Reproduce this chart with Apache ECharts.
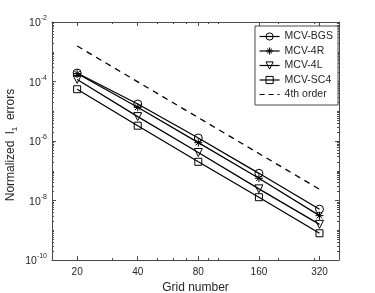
<!DOCTYPE html>
<html>
<head>
<meta charset="utf-8">
<script src="https://cdn.jsdelivr.net/npm/echarts@6/dist/echarts.min.js"></script>
<style>html,body{margin:0;padding:0;background:#fff}#c{width:375px;height:293px}</style>
</head>
<body>
<div id="c"></div>
<script>
// ---- data ----
const gridN = [20, 40, 80, 160, 320];
const bgs   = [1.93e-4, 1.75e-5, 1.26e-6, 8.2e-8, 5.1e-9];
const r4    = [1.85e-4, 1.36e-5, 8.8e-7, 5.6e-8, 3.1e-9];
const l4    = [1.17e-4, 6.6e-6, 4.1e-7, 2.46e-8, 1.58e-9];
const sc4   = [5.5e-5, 3.27e-6, 2.0e-7, 1.29e-8, 7.9e-10];
const ord4  = [1.56e-3, 9.75e-5, 6.1e-6, 3.8e-7, 2.38e-8];
const seriesNames = ['MCV-BGS', 'MCV-4R', 'MCV-4L', 'MCV-SC4', '4th order'];
const xMajorTicks = [20, 40, 80, 160, 320];
const xMinorTicks = [30, 50, 60, 70, 90, 100, 200, 300];
const yLabelTicks = [1e-10, 1e-8, 1e-6, 1e-4, 1e-2];
const yMinorTicks = [];
for (let e = -10; e < -2; e++) {
  for (let m = 1; m <= 9; m++) {
    const v = m * Math.pow(10, e);
    if (!(m === 1 && e % 2 === 0)) yMinorTicks.push(v);
  }
}

const axisColor = '#4a4a4a';
const textColor = '#262626';
const font = 'Liberation Sans';

function pairs(ys) { return gridN.map((x, i) => [x, ys[i]]); }

const asterisk = 'path://M0,5L10,5M5,0L5,10M1.6,1.6L8.4,8.4M8.4,1.6L1.6,8.4';
const downTri = 'path://M0,0L10,0L5,8.7Z';

function xAxisDef(pos, ticks, len, showLine, showLabel) {
  const a = {
    type: 'log', logBase: 10, min: 15, max: 400, position: pos,
    axisLine: { show: showLine, onZero: false, lineStyle: { color: axisColor, width: 1 } },
    axisTick: { show: true, inside: true, length: len, customValues: ticks, lineStyle: { color: axisColor, width: 1 } },
    axisLabel: { show: showLabel, customValues: ticks, margin: 7, color: textColor, fontFamily: font, fontSize: 10, formatter: v => String(Math.round(v)) },
    splitLine: { show: false }, minorTick: { show: false }
  };
  if (showLabel) {
    a.name = 'Grid number'; a.nameLocation = 'middle'; a.nameGap = 22; a.nameMoveOverlap = false;
    a.nameTextStyle = { color: textColor, fontFamily: font, fontSize: 12 };
  }
  return a;
}
function yAxisDef(pos, ticks, len, showLine, showLabel) {
  const a = {
    type: 'log', logBase: 10, min: 1e-10, max: 1e-2, position: pos,
    axisLine: { show: showLine, onZero: false, lineStyle: { color: axisColor, width: 1 } },
    axisTick: { show: true, inside: true, length: len, customValues: ticks, lineStyle: { color: axisColor, width: 1 } },
    axisLabel: {
      show: showLabel, customValues: ticks, margin: 5, color: textColor, fontFamily: font, fontSize: 10,
      formatter: v => '{b|10}{s|' + Math.round(Math.log10(v)) + '}',
      rich: {
        b: { fontSize: 10.5, fontFamily: font, color: textColor, lineHeight: 14, verticalAlign: 'bottom' },
        s: { fontSize: 7, fontFamily: font, color: textColor, lineHeight: 14, verticalAlign: 'top' }
      }
    },
    splitLine: { show: false }, minorTick: { show: false }
  };
  if (showLabel) {
    a.name = 'Normalized  l{s|1}  errors'; a.nameLocation = 'middle'; a.nameGap = 33; a.nameRotate = 90;
    a.nameMoveOverlap = false;
    a.nameTextStyle = { color: textColor, fontFamily: font, fontSize: 12, lineHeight: 16, padding: [0, 8, 0, 0],
      rich: { s: { fontSize: 8, fontFamily: font, color: textColor, lineHeight: 16, verticalAlign: 'bottom' } } };
  }
  return a;
}

function lineSeries(name, data, symbol, size) {
  return {
    name: name, type: 'line', data: pairs(data), symbol: symbol, symbolSize: size,
    showAllSymbol: true, z: 3,
    lineStyle: { color: '#000', width: 1.3 },
    itemStyle: { color: 'rgba(0,0,0,0)', borderColor: '#000', borderWidth: 1 },
    emphasis: { disabled: true }, animation: false
  };
}

const markerLegendStyle = { color: 'rgba(0,0,0,0)', borderColor: '#000', borderWidth: 1 };
const legendLine = { color: '#000', width: 1.2, type: 'solid' };

const chart = echarts.init(document.getElementById('c'), null, { renderer: 'canvas' });
chart.setOption({
  animation: false,
  backgroundColor: '#fff',
  grid: { left: 52, right: 36, top: 22, bottom: 33, containLabel: false, outerBoundsMode: 'none' },
  xAxis: [
    xAxisDef('bottom', xMajorTicks, 4, true, true),
    xAxisDef('bottom', xMinorTicks, 2, false, false),
    xAxisDef('top', xMajorTicks, 4, true, false),
    xAxisDef('top', xMinorTicks, 2, false, false)
  ],
  yAxis: [
    yAxisDef('left', yLabelTicks, 4, true, true),
    yAxisDef('left', yMinorTicks, 2, false, false),
    yAxisDef('right', yLabelTicks, 4, true, false),
    yAxisDef('right', yMinorTicks, 2, false, false)
  ],
  legend: {
    left: 255, top: 26, orient: 'vertical',
    backgroundColor: '#fff', borderColor: axisColor, borderWidth: 1,
    padding: [5, 5, 5, 4], itemGap: 3.5, itemWidth: 20, itemHeight: 9,
    textStyle: { color: textColor, fontFamily: font, fontSize: 10.5, lineHeight: 10 },
    data: [
      { name: seriesNames[0], itemStyle: markerLegendStyle, lineStyle: legendLine },
      { name: seriesNames[1], itemStyle: markerLegendStyle, lineStyle: legendLine },
      { name: seriesNames[2], itemStyle: markerLegendStyle, lineStyle: legendLine },
      { name: seriesNames[3], itemStyle: markerLegendStyle, lineStyle: legendLine },
      { name: seriesNames[4], itemStyle: { color: 'rgba(0,0,0,0)', borderWidth: 0, opacity: 0 },
        lineStyle: { color: '#000', width: 1.2, type: [5, 4] } }
    ]
  },
  series: [
    lineSeries(seriesNames[0], bgs, 'circle', 8),
    lineSeries(seriesNames[1], r4, asterisk, 8),
    lineSeries(seriesNames[2], l4, downTri, 8),
    lineSeries(seriesNames[3], sc4, 'rect', 7),
    {
      name: seriesNames[4], type: 'line', data: pairs(ord4), symbol: 'none', z: 3,
      lineStyle: { color: '#000', width: 1.3, type: [6, 5] },
      itemStyle: { color: '#000' }, emphasis: { disabled: true }
    }
  ]
});
</script>
</body>
</html>
